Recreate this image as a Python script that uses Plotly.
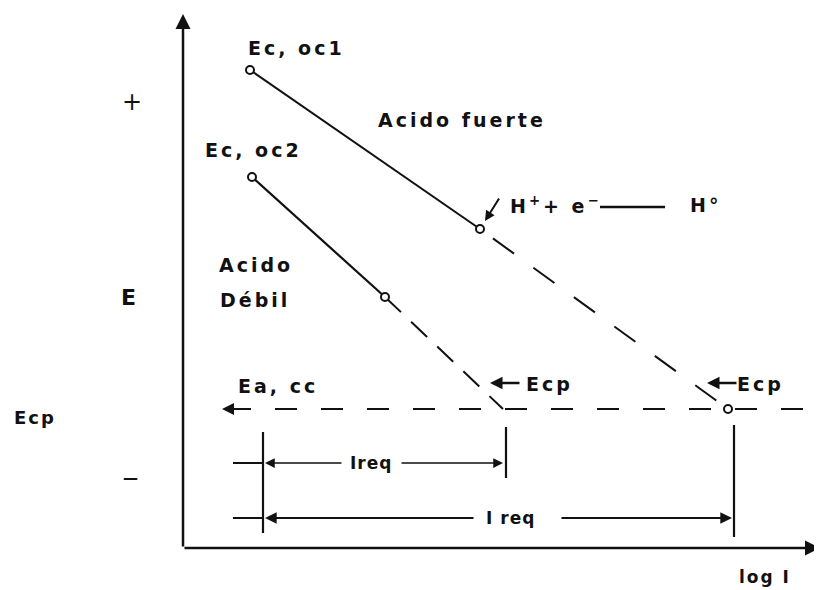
import plotly.graph_objects as go

# Coordinate system: logI (arbitrary units, 0 at axis origin), E (arbitrary units, 0 at x-axis)
# Strong acid (Acido fuerte) polarization line
oc1_solid_logI = [67, 297]
oc1_solid_E = [478, 319]
oc1_dash_logI = [297, 545]
oc1_dash_E = [319, 139]
# Weak acid (Acido debil) polarization line
oc2_solid_logI = [69, 202]
oc2_solid_E = [371, 251]
oc2_dash_logI = [202, 320]
oc2_dash_E = [251, 139]
# Anodic line Ea,cc
ecp_logI = [46, 620]
ecp_E = [139, 139]
ecp_point_logI = [545]
ecp_point_E = [139]
# Ireq markers
ireq_x = [80, 323, 551]
ireq_top = [116, 121, 123]
ireq_bottom = [15, 70, 11]
ireq_level = [85, 30]
# reaction arrow line
rx_logI = [417, 482]
rx_E = [341, 341]

AX_MAX_X = 637
AX_MAX_E = 534

BLACK = "#111111"
FONT = "DejaVu Sans"

fig = go.Figure()

def line(x, y, dash="solid", width=2):
    fig.add_trace(go.Scatter(x=x, y=y, mode="lines",
                             line=dict(color=BLACK, width=width, dash=dash),
                             hoverinfo="skip", showlegend=False))

line(oc1_solid_logI, oc1_solid_E)
line(oc1_dash_logI, oc1_dash_E, dash="0px,16px,26px,8px")
line(oc2_solid_logI, oc2_solid_E, width=2.2)
line(oc2_dash_logI, oc2_dash_E, dash="22px,14px")
line(ecp_logI, ecp_E, dash="22px,24px")
line(rx_logI, rx_E, width=2.5)

# vertical Ireq lines
for xv, t, b in zip(ireq_x, ireq_top, ireq_bottom):
    line([xv, xv], [b, t], width=2.2)
# small left ticks
for lv in ireq_level:
    line([50, ireq_x[0]], [lv, lv], width=2)

# circles
fig.add_trace(go.Scatter(
    x=[oc1_solid_logI[0], oc1_solid_logI[1], oc2_solid_logI[0], oc2_solid_logI[1]] + ecp_point_logI,
    y=[oc1_solid_E[0], oc1_solid_E[1], oc2_solid_E[0], oc2_solid_E[1]] + ecp_point_E,
    mode="markers",
    marker=dict(symbol="circle", size=8, color="white", line=dict(color=BLACK, width=2)),
    hoverinfo="skip", showlegend=False))

annotations = []

def arrow(x, y, ax, ay, head=2, width=2, size=1.0):
    annotations.append(dict(x=x, y=y, ax=ax, ay=ay, xref="x", yref="y",
                            axref="x", ayref="y", showarrow=True, arrowhead=head,
                            arrowwidth=width, arrowsize=size, arrowcolor=BLACK, text=""))

# axes
arrow(0, AX_MAX_E, 0, 0, head=2, width=2.5, size=1.2)
arrow(AX_MAX_X, 0, 0, 0, head=2, width=2.5, size=1.2)
# Ea,cc arrow (left end of horizontal dashed line)
arrow(39, 139, 62, 139, head=2, width=2, size=1.2)
# Ireq arrows
arrow(82, ireq_level[0], 160, ireq_level[0], head=2, width=1.5, size=1.3)
arrow(320, ireq_level[0], 217, ireq_level[0], head=2, width=1.5, size=1.3)
arrow(82, ireq_level[1], 292, ireq_level[1], head=2, width=1.8, size=1.3)
arrow(549, ireq_level[1], 377, ireq_level[1], head=2, width=1.8, size=1.3)
# Ecp arrows
arrow(307, 165, 338, 165, head=2, width=2.5, size=1.0)
arrow(524, 165, 555, 165, head=2, width=2.5, size=1.0)
# arrow to H+ point
arrow(302, 327, 317, 351, head=2, width=2, size=1.0)

def label(x, y, text, size=19, spacing=3, xanchor="center"):
    annotations.append(dict(x=x, y=y, xref="x", yref="y", showarrow=False,
                            xanchor=xanchor, yanchor="middle",
                            text=f'<span style="letter-spacing:{spacing}px">{text}</span>',
                            font=dict(family=FONT, size=size, color=BLACK)))

label(113, 500, "<b>Ec, oc1</b>")
label(70, 398, "<b>Ec, oc2</b>")
label(279, 428, "<b>Acido fuerte</b>")
label(73, 283, "<b>Acido</b>")
label(72, 248, "<b>Débil</b>")
label(325, 343, "<b>H<sup>+</sup>+ e<sup>−</sup></b>", xanchor="left")
label(505, 343, "<b>H°</b>", xanchor="left")
label(95, 162, "<b>Ea, cc</b>")
label(366, 164, "<b>Ecp</b>")
label(577, 164, "<b>Ecp</b>")
label(188, ireq_level[0], "<b>Ireq</b>", size=17, spacing=1)
label(327, ireq_level[1], "<b>I req</b>", size=17, spacing=1)
label(582, -29, "<b>log I</b>", size=17, spacing=2)
label(-51, 446, "+", size=24, spacing=0)
label(-55, 251, "<b>E</b>", size=22, spacing=0)
label(-53, 70, "<b>—</b>", size=15, spacing=0)
label(-148, 131, "<b>Ecp</b>", size=18, spacing=2)

fig.update_layout(
    width=814, height=582,
    margin=dict(l=0, r=0, t=0, b=0),
    paper_bgcolor="white", plot_bgcolor="white",
    xaxis=dict(range=[-175, 639], visible=False, fixedrange=True),
    yaxis=dict(range=[-42, 540], visible=False, fixedrange=True),
    annotations=annotations,
    showlegend=False,
)

fig.write_html("out.html")
